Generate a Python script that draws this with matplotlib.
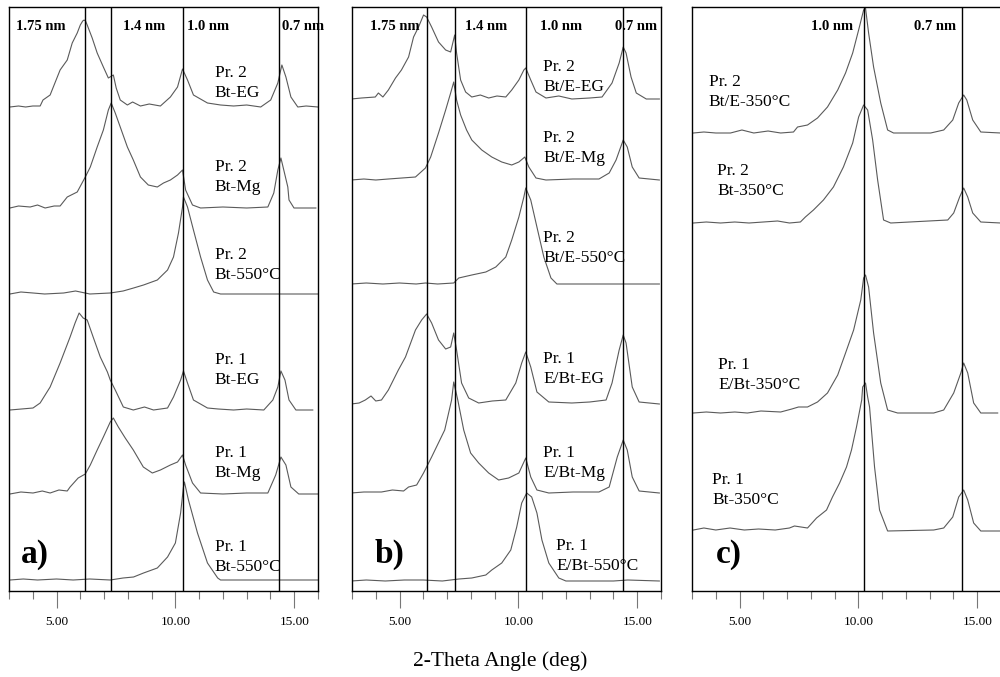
import numpy as np
import matplotlib
matplotlib.use("Agg")
import matplotlib.pyplot as plt
from matplotlib.ticker import MultipleLocator, FixedLocator

plt.rcParams['font.family'] = ['Liberation Serif', 'DejaVu Serif']

# ---- panel a traces: 2-theta (deg) and height above own baseline ----
a1_x = [3.04, 3.4, 3.7, 4.0, 4.31, 4.43, 4.73, 5.15, 5.45, 5.66, 5.87, 6.0, 6.1, 6.16, 6.22, 6.29, 6.5, 6.71, 6.97,
        7.18, 7.39, 7.51, 7.68, 7.98, 8.2, 8.53, 8.9, 9.37, 9.79, 10.09, 10.3, 10.51, 10.76, 11.35, 11.9,
        12.45, 13.0, 13.59, 14.01, 14.31, 14.48, 14.65, 14.86, 15.15, 15.5, 16.0]
a1_y = [0, 1, 0, 1, 1, 7, 12, 37, 47, 64, 74, 82, 86, 87, 86, 82, 69, 54, 40,
        29, 32, 19, 7, 2, 5, 1, 3, 1, 10, 20, 38, 27, 12, 4, 2,
        1, 2, 0, 7, 24, 42, 30, 10, 0, 1, 0]
a2_x = [3.04, 3.4, 3.89, 4.2, 4.52, 4.9, 5.15, 5.45, 5.87, 6.21, 6.42, 6.71, 6.97, 7.18, 7.3, 7.47, 7.77,
        7.98, 8.23, 8.53, 8.86, 9.24, 9.5, 9.79, 10.09, 10.3, 10.43, 10.72, 11.06, 12.0, 13.0, 13.89,
        14.14, 14.31, 14.44, 14.56, 14.73, 14.78, 14.99, 15.91]
a2_y = [0, 2, 1, 3, 0, 2, 2, 11, 16, 31, 41, 61, 78, 98, 105, 95, 75,
        61, 48, 31, 23, 21, 25, 28, 33, 38, 18, 3, 0, 1, 0, 1,
        15, 38, 50, 38, 21, 8, 0, 0]
a3_x = [3.04, 3.5, 4.01, 4.5, 5.3, 5.8, 6.4, 7.26, 7.8, 8.24, 8.66, 9.24, 9.67, 9.92, 10.13, 10.3, 10.34,
        10.51, 10.76, 11.06, 11.35, 11.61, 11.9, 16.0]
a3_y = [0, 2, 1, 0, 1, 3, 0, 1, 3, 6, 9, 14, 24, 37, 61, 87, 97,
        87, 64, 37, 14, 2, 0, 0]
a4_x = [3.04, 4.01, 4.31, 4.73, 5.15, 5.57, 5.78, 5.95, 6.12, 6.29, 6.54, 6.84, 7.14, 7.26, 7.47, 7.81,
        8.23, 8.7, 9.08, 9.67, 9.92, 10.22, 10.34, 10.51, 10.76, 11.35, 11.8, 12.45, 13.0, 13.72, 14.1,
        14.31, 14.44, 14.61, 14.78, 15.07, 15.78]
a4_y = [0, 2, 7, 23, 47, 73, 87, 97, 92, 90, 73, 53, 38, 30, 20, 3,
        0, 3, 0, 2, 13, 30, 39, 27, 10, 2, 1, 0, 1, 0, 10,
        23, 39, 30, 10, 0, 0]
a5_x = [3.04, 3.5, 4.01, 4.4, 4.73, 5.1, 5.45, 5.57, 5.91, 6.21, 6.42, 6.71, 6.97, 7.26, 7.39, 7.6, 7.89,
        8.23, 8.65, 9.03, 9.37, 9.79, 10.09, 10.3, 10.43, 10.72, 11.06, 12.0, 13.0, 13.89, 14.22, 14.44,
        14.65, 14.86, 15.19, 16.0]
a5_y = [0, 2, 1, 3, 1, 4, 3, 7, 16, 20, 29, 44, 57, 72, 76, 67, 56,
        44, 27, 21, 24, 29, 32, 39, 29, 11, 1, 0, 1, 1, 19, 37,
        29, 7, 0, 0]
a6_x = [3.04, 3.6, 4.2, 5.0, 5.7, 6.4, 7.26, 7.8, 8.24, 8.66, 9.24, 9.67, 10.0, 10.22, 10.34, 10.38, 10.55,
        10.93, 11.35, 11.78, 11.9, 16.0]
a6_y = [0, 1, 0, 1, 0, 1, 0, 2, 3, 7, 12, 23, 37, 67, 93, 98, 80,
        47, 17, 2, 0, 0]

# ---- panel b traces ----
b1_x = [2.97, 3.4, 3.98, 4.11, 4.3, 4.53, 4.83, 5.08, 5.38, 5.59, 5.8, 6.01, 6.14, 6.35, 6.64, 6.94, 7.15,
        7.32, 7.4, 7.57, 7.78, 8.04, 8.4, 8.75, 9.1, 9.47, 9.72, 10.02, 10.23, 10.31, 10.52, 10.74, 11.16,
        11.7, 12.25, 13.0, 13.52, 13.94, 14.24, 14.41, 14.53, 14.74, 14.96, 15.38, 15.93]
b1_y = [0, 1, 2, 6, 2, 9, 21, 29, 42, 62, 72, 84, 82, 72, 57, 49, 47,
        64, 46, 19, 7, 2, 4, 1, 3, 2, 9, 19, 29, 31, 19, 7, 1,
        3, 0, 1, 2, 16, 36, 52, 46, 22, 6, 0, 0]
b2_x = [2.97, 3.5, 4.0, 4.53, 5.1, 5.67, 6.09, 6.31, 6.64, 6.94, 7.15, 7.28, 7.4, 7.57, 7.82, 8.04, 8.46,
        8.88, 9.3, 9.72, 10.02, 10.27, 10.44, 10.74, 11.16, 12.3, 13.39, 13.82, 14.11, 14.41, 14.58, 14.79,
        15.08, 15.93]
b2_y = [0, 1, 0, 1, 2, 3, 12, 23, 47, 70, 87, 98, 80, 65, 50, 40, 30,
        23, 18, 15, 18, 23, 13, 2, 0, 1, 1, 7, 20, 40, 33, 13,
        2, 0]
b3_x = [2.97, 3.6, 4.3, 5.0, 5.7, 6.09, 6.6, 7.28, 7.49, 8.04, 8.63, 9.05, 9.47, 9.72, 10.02, 10.23, 10.31,
        10.52, 10.78, 11.07, 11.37, 11.62, 15.93]
b3_y = [0, 1, 0, 1, 0, 1, 0, 1, 6, 9, 12, 17, 27, 44, 67, 87, 96,
        84, 57, 27, 6, 0, 0]
b4_x = [2.97, 3.3, 3.56, 3.8, 4.0, 4.24, 4.53, 4.95, 5.25, 5.67, 5.93, 6.14, 6.35, 6.64, 6.94, 7.15, 7.28,
        7.4, 7.61, 7.91, 8.33, 8.9, 9.47, 9.89, 10.14, 10.31, 10.52, 10.78, 11.28, 12.25, 13.0, 13.69,
        13.94, 14.24, 14.41, 14.53, 14.79, 15.08, 15.93]
b4_y = [0, 1, 4, 8, 3, 4, 14, 34, 47, 74, 84, 90, 81, 64, 55, 57, 71,
        54, 21, 6, 1, 3, 4, 21, 41, 52, 37, 12, 2, 1, 2, 4,
        21, 54, 69, 61, 17, 2, 0]
b5_x = [2.97, 3.5, 4.24, 4.7, 5.17, 5.38, 5.72, 6.01, 6.35, 6.9, 7.19, 7.28, 7.45, 7.7, 7.99, 8.33, 8.75,
        9.17, 9.59, 10.02, 10.31, 10.52, 10.78, 11.28, 12.3, 13.39, 13.82, 14.16, 14.41, 14.58, 14.79,
        15.08, 15.93]
b5_y = [0, 1, 1, 3, 2, 6, 8, 20, 36, 63, 93, 111, 93, 63, 40, 30, 20,
        13, 15, 20, 35, 16, 3, 0, 1, 1, 6, 36, 53, 43, 16,
        2, 0]
b6_x = [2.97, 3.6, 4.4, 5.2, 6.0, 6.8, 7.5, 8.04, 8.63, 8.88, 9.3, 9.68, 9.93, 10.14, 10.35, 10.56, 10.78,
        10.99, 11.28, 11.7, 12.0, 14.0, 14.6, 15.93]
b6_y = [0, 1, 0, 1, 1, 0, 2, 3, 6, 11, 18, 31, 54, 78, 88, 84, 68,
        41, 18, 3, 0, 0, 1, 0]

# ---- panel c traces ----
c1_x = [3.06, 3.5, 4.0, 4.62, 5.1, 5.6, 6.2, 6.73, 7.27, 7.44, 7.86, 8.28, 8.7, 9.13, 9.46, 9.76, 10.01,
        10.22, 10.3, 10.43, 10.64, 10.94, 11.23, 11.48, 13.04, 13.59, 13.97, 14.22, 14.43, 14.56, 14.81,
        15.15, 15.99]
c1_y = [0, 1, 0, 0, 3, 0, 2, 0, 1, 6, 8, 15, 26, 43, 60, 80, 103,
        123, 125, 100, 66, 30, 3, 0, 0, 3, 13, 30, 38, 33, 13,
        1, 0]
c2_x = [3.06, 3.6, 4.2, 4.8, 5.4, 6.0, 6.6, 7.1, 7.56, 7.77, 8.11, 8.53, 8.95, 9.37, 9.76, 10.01, 10.22,
        10.39, 10.6, 10.81, 11.06, 11.36, 13.76, 14.01, 14.26, 14.43, 14.6, 14.81, 15.15, 15.99]
c2_y = [0, 1, 0, 1, 0, 1, 2, 0, 1, 6, 13, 23, 36, 56, 80, 106, 118,
        113, 83, 43, 3, 0, 3, 10, 26, 35, 26, 10, 1, 0]
c3_x = [3.06, 3.6, 4.2, 4.8, 5.33, 5.9, 6.73, 7.2, 7.48, 7.86, 8.28, 8.7, 9.13, 9.46, 9.8, 10.1, 10.22,
        10.3, 10.43, 10.64, 10.94, 11.23, 11.65, 13.17, 13.59, 14.01, 14.31, 14.43, 14.6, 14.85, 15.15,
        15.86]
c3_y = [0, 1, 0, 1, 0, 2, 1, 4, 6, 6, 11, 20, 38, 60, 83, 113, 135,
        138, 126, 80, 30, 3, 0, 0, 3, 20, 40, 50, 40, 10, 0,
        0]
c4_x = [3.06, 3.5, 4.0, 4.6, 5.2, 5.8, 6.5, 7.1, 7.31, 7.86, 8.24, 8.66, 8.91, 9.21, 9.5, 9.71, 9.92,
        10.14, 10.18, 10.3, 10.39, 10.47, 10.68, 10.89, 11.23, 13.17, 13.59, 13.97, 14.22, 14.43, 14.6,
        14.85, 15.15, 15.99]
c4_y = [1, 3, 1, 3, 1, 2, 1, 3, 5, 3, 13, 21, 34, 48, 64, 81, 104,
        131, 144, 148, 134, 124, 64, 21, 0, 1, 3, 14, 34, 41, 31,
        8, 0, 0]

# baselines (vertical offsets) of each trace, top to bottom
a_offsets = [484, 383, 297, 181, 97, 11]
b_offsets = [492, 411, 307, 187, 98, 10]
c_offsets = [458, 368, 178, 60]

a_labels = ["Pr. 2\nBt-EG", "Pr. 2\nBt-Mg", "Pr. 2\nBt-550°C",
            "Pr. 1\nBt-EG", "Pr. 1\nBt-Mg", "Pr. 1\nBt-550°C"]
b_labels = ["Pr. 2\nBt/E-EG", "Pr. 2\nBt/E-Mg", "Pr. 2\nBt/E-550°C",
            "Pr. 1\nE/Bt-EG", "Pr. 1\nE/Bt-Mg", "Pr. 1\nE/Bt-550°C"]
c_labels = ["Pr. 2\nBt/E-350°C", "Pr. 2\nBt-350°C",
            "Pr. 1\nE/Bt-350°C", "Pr. 1\nBt-350°C"]

# label anchor: (2-theta of left edge, y centre)
a_label_pos = [(11.65, 508), (11.65, 414), (11.65, 326), (11.65, 221), (11.65, 128), (11.65, 34)]
b_label_pos = [(11.05, 514), (11.05, 443), (11.05, 343), (11.05, 222), (11.05, 128), (11.6, 35)]
c_label_pos = [(3.7, 499), (4.05, 410), (4.1, 216), (3.85, 101)]

a_lines = [6.2, 7.3, 10.3, 14.35]
b_lines = [6.15, 7.33, 10.32, 14.4]
c_lines = [10.25, 14.35]

a_nm = [("1.75 nm", 3.3), ("1.4 nm", 7.8), ("1.0 nm", 10.5), ("0.7 nm", 14.5)]
b_nm = [("1.75 nm", 3.75), ("1.4 nm", 7.75), ("1.0 nm", 10.9), ("0.7 nm", 14.05)]
c_nm = [("1.0 nm", 8.0), ("0.7 nm", 12.35)]

trace_col = '#5a5a5a'

fig = plt.figure(figsize=(10, 6.77), dpi=100)

panels = [
    (0.009, [(a1_x, a1_y), (a2_x, a2_y), (a3_x, a3_y), (a4_x, a4_y), (a5_x, a5_y), (a6_x, a6_y)],
     a_offsets, a_labels, a_label_pos, a_lines, a_nm, "a)", 3.5),
    (0.352, [(b1_x, b1_y), (b2_x, b2_y), (b3_x, b3_y), (b4_x, b4_y), (b5_x, b5_y), (b6_x, b6_y)],
     b_offsets, b_labels, b_label_pos, b_lines, b_nm, "b)", 3.95),
    (0.692, [(c1_x, c1_y), (c2_x, c2_y), (c3_x, c3_y), (c4_x, c4_y)],
     c_offsets, c_labels, c_label_pos, c_lines, c_nm, "c)", 4.0),
]

for left, traces, offs, labels, lpos, vlines, nms, letter, lx in panels:
    ax = fig.add_axes([left, 1 - 591 / 677, 0.309, 584 / 677])
    ax.set_xlim(3, 16)
    ax.set_ylim(0, 584)

    for (x, y), off in zip(traces, offs):
        ax.plot(x, off + np.array(y), color=trace_col, lw=0.8)

    for v in vlines:
        ax.axvline(v, color='black', lw=1.0)

    for txt, (tx, ty) in zip(labels, lpos):
        ax.text(tx, ty, txt, fontsize=12.5, va='center', ha='left', linespacing=1.4)

    for txt, tx in nms:
        ax.text(tx, 564, txt, fontsize=10.5, fontweight='bold', va='center', ha='left')

    ax.text(lx, 37, letter, fontsize=24, fontweight='bold', va='center', ha='left')

    ax.set_yticks([])
    ax.xaxis.set_major_locator(FixedLocator([5, 10, 15]))
    ax.xaxis.set_minor_locator(MultipleLocator(1))
    ax.set_xticklabels(["5.00", "10.00", "15.00"], fontsize=9.5)
    ax.tick_params(axis='x', which='major', direction='out', length=12, width=0.8,
                   color='#777777', pad=6)
    ax.tick_params(axis='x', which='minor', direction='out', length=6, width=0.8,
                   color='#777777')
    for s in ax.spines.values():
        s.set_linewidth(1.0)

fig.text(0.5, 1 - 661 / 677, "2-Theta Angle (deg)", ha='center', va='center', fontsize=15.5)

fig.savefig("out.png", dpi=100)
